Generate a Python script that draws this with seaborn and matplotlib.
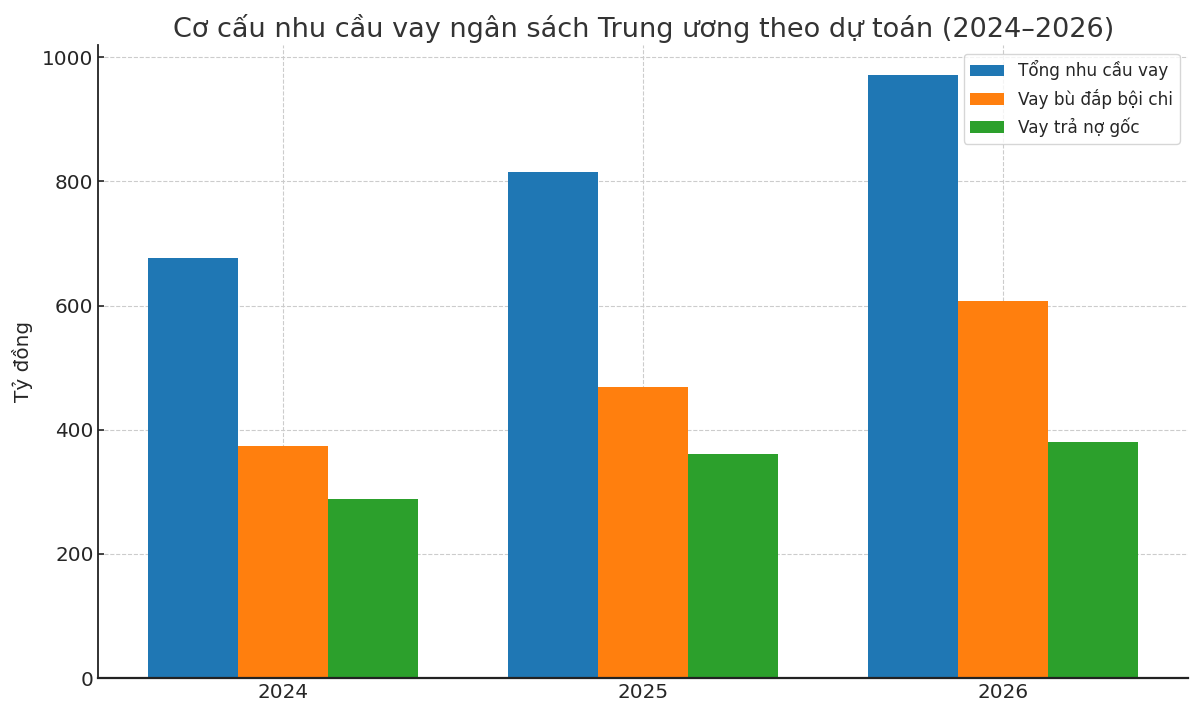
import matplotlib
matplotlib.use("Agg")
import matplotlib.pyplot as plt
import seaborn as sns
import pandas as pd

# du lieu doc tu bieu do (ty dong)
years = ["2024", "2025", "2026"]
series_names = ["Tổng nhu cầu vay", "Vay bù đắp bội chi", "Vay trả nợ gốc"]
tong_nhu_cau = [676, 815, 971]
bu_dap_boi_chi = [374, 469, 607]
tra_no_goc = [288, 361, 380]

colors = ["#1f77b4", "#ff7f0e", "#2ca02c"]

# chuyen sang dang long cho seaborn
rows = []
for name, vals in zip(series_names, [tong_nhu_cau, bu_dap_boi_chi, tra_no_goc]):
    for y, v in zip(years, vals):
        rows.append({"Năm": y, "Loại": name, "Giá trị": v})
df = pd.DataFrame(rows)

sns.set_theme(style="ticks")
plt.rcParams["font.family"] = ["DejaVu Sans"]

fig, ax = plt.subplots(figsize=(12, 7.16), dpi=100)
sns.barplot(data=df, x="Năm", y="Giá trị", hue="Loại", order=years,
            hue_order=series_names, palette=colors, width=0.75,
            saturation=1, errorbar=None, linewidth=0, ax=ax, zorder=2)

ax.set_title("Cơ cấu nhu cầu vay ngân sách Trung ương theo dự toán (2024–2026)",
             fontsize=19.5, color="#333333")
ax.set_xlabel("")
ax.set_ylabel("Tỷ đồng", fontsize=14.4, labelpad=6.5)
ax.tick_params(axis="both", labelsize=14.4, direction="in", length=4.5, width=1.2)
ax.set_xlim(-0.5125, 2.5125)
ax.set_ylim(0, 1019.5)

ax.grid(True, linestyle="--", color="#cccccc", linewidth=0.8, zorder=0)
ax.set_axisbelow(True)
sns.despine(ax=ax)
ax.spines["left"].set_linewidth(1.3)
ax.spines["bottom"].set_linewidth(1.6)
for s in ["left", "bottom"]:
    ax.spines[s].set_color("#222222")

ax.legend(title=None, loc="upper right", fontsize=12.2, frameon=True)

plt.subplots_adjust(left=0.082, right=0.99, top=0.937, bottom=0.053)
plt.savefig("out.png", dpi=100)
